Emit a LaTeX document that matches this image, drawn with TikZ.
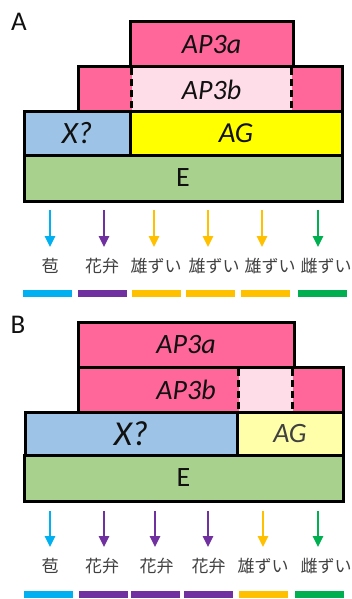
\documentclass[tikz,border=0pt]{standalone}
\usepackage{fontspec}
\setmainfont{Carlito}
\newfontfamily\jpfont{Noto Sans CJK JP}
\usetikzlibrary{arrows.meta}
\definecolor{pk}{HTML}{FF6699}
\definecolor{lpk}{HTML}{FFDDE8}
\definecolor{lbl}{HTML}{9DC3E6}
\definecolor{ylw}{HTML}{FFFF00}
\definecolor{lylw}{HTML}{FFFFAA}
\definecolor{grn}{HTML}{A9D18E}
\definecolor{cCy}{HTML}{00B0F0}
\definecolor{cPu}{HTML}{7030A0}
\definecolor{cGo}{HTML}{FFC000}
\definecolor{cGr}{HTML}{00B050}
\definecolor{txt}{HTML}{111111}
\definecolor{jtxt}{HTML}{404040}
\begin{document}
\begin{tikzpicture}[x=1pt,y=-1pt,
  box/.style={draw=black, line width=3pt, inner sep=0pt, outer sep=0pt, anchor=center, text=txt,
    font=\fontsize{28}{28}\selectfont\itshape},
  inbox/.style={draw=none, fill=lpk, inner sep=0pt, outer sep=0pt, anchor=center, text=txt,
    font=\fontsize{28}{28}\selectfont\itshape},
  dsh/.style={draw=black, line width=3pt, dash pattern=on 7pt off 4pt},
  lab/.style={anchor=base, inner sep=0pt, outer sep=0pt, text height=14pt, text depth=2pt,
    text=jtxt, font=\jpfont\fontsize{17}{17}\selectfont},
  arr/.style={draw=#1, line width=2.5pt, -{Triangle[width=10pt,length=11pt]}, shorten >=11pt},
  bar/.style={fill=#1, draw=none, inner sep=0pt, outer sep=0pt, minimum width=49pt, minimum height=7pt, anchor=center},
  panel/.style={anchor=center, inner sep=0pt, text=txt, font=\fontsize{27}{27}\selectfont}
]
\useasboundingbox (0,0) rectangle (352,599);

% ---------- Panel A ----------
\node[panel] (pa) at (19,22) {A};
\node[box, fill=pk, minimum width=163pt, minimum height=45pt] (a3a) at (211.5,44.5) {AP3a};
\node[box, fill=pk, minimum width=264pt, minimum height=45pt] (a3brow) at (210,89.5) {};
\node[inbox, minimum width=160pt, minimum height=42pt] (a3b) at (211.5,89.5) {AP3b};
\draw[dsh] (a3b.north west) -- (a3b.south west);
\draw[dsh] (a3b.north east) -- (a3b.south east);
\node[box, fill=lbl, minimum width=106pt, minimum height=43pt, font=\fontsize{31}{31}\selectfont\itshape] (ax) at (77,133.5) {X?};
\node[box, fill=ylw, minimum width=212pt, minimum height=43pt, font=\fontsize{29}{29}\selectfont\itshape] (aag) at (236,133.5) {AG};
\node[box, fill=grn, minimum width=318pt, minimum height=46pt, font=\fontsize{28}{28}\selectfont] (ae) at (183,178) {E};

\coordinate (ta1) at (50,210);
\coordinate (ta2) at (104,210);
\coordinate (ta3) at (154,210);
\coordinate (ta4) at (208,210);
\coordinate (ta5) at (262,210);
\coordinate (ta6) at (318,210);
\node[lab] (la1) at (50,272) {苞};
\node[lab] (la2) at (102,272) {花弁};
\node[lab] (la3) at (156,272) {雄ずい};
\node[lab] (la4) at (214,272) {雄ずい};
\node[lab] (la5) at (270,272) {雄ずい};
\node[lab] (la6) at (326,272) {雌ずい};
\draw[arr=cCy] (ta1) -- (ta1 |- la1.north);
\draw[arr=cPu] (ta2) -- (ta2 |- la2.north);
\draw[arr=cGo] (ta3) -- (ta3 |- la3.north);
\draw[arr=cGo] (ta4) -- (ta4 |- la4.north);
\draw[arr=cGo] (ta5) -- (ta5 |- la5.north);
\draw[arr=cGr] (ta6) -- (ta6 |- la6.north);
\node[bar=cCy] (ba1) at (47.5,293.5) {};
\node[bar=cPu] (ba2) at (102,293.5) {};
\node[bar=cGo] (ba3) at (156.5,293.5) {};
\node[bar=cGo] (ba4) at (210,293.5) {};
\node[bar=cGo] (ba5) at (265.5,293.5) {};
\node[bar=cGr] (ba6) at (322,293.5) {};

% ---------- Panel B ----------
\node[panel] (pb) at (18,325) {B};
\node[box, fill=pk, minimum width=216pt, minimum height=45pt] (b3a) at (186,344.5) {AP3a};
\node[box, fill=pk, minimum width=265pt, minimum height=45pt] (b3brow) at (210.5,389.5) {};
\node[inbox, minimum width=54pt, minimum height=42pt] (b3bin) at (265.5,389.5) {};
\node[anchor=center, inner sep=0pt, text=txt, font=\fontsize{28}{28}\selectfont\itshape] (b3b) at (186,389.5) {AP3b};
\draw[dsh] (b3bin.north west) -- (b3bin.south west);
\draw[dsh] (b3bin.north east) -- (b3bin.south east);
\node[box, fill=lbl, minimum width=212pt, minimum height=43pt, font=\fontsize{35}{35}\selectfont\itshape] (bx) at (131,433.5) {X?};
\node[box, fill=lylw, minimum width=106pt, minimum height=43pt, text=jtxt] (bag) at (290,433.5) {AG};
\node[box, fill=grn, minimum width=319pt, minimum height=46pt, font=\fontsize{28}{28}\selectfont] (be) at (183.5,478) {E};

\coordinate (tb1) at (50,511);
\coordinate (tb2) at (104,511);
\coordinate (tb3) at (155,511);
\coordinate (tb4) at (208,511);
\coordinate (tb5) at (263,511);
\coordinate (tb6) at (318,511);
\node[lab] (lb1) at (50,572) {苞};
\node[lab] (lb2) at (102,572) {花弁};
\node[lab] (lb3) at (156.5,572) {花弁};
\node[lab] (lb4) at (208.5,572) {花弁};
\node[lab] (lb5) at (263,572) {雄ずい};
\node[lab] (lb6) at (326,572) {雌ずい};
\draw[arr=cCy] (tb1) -- (tb1 |- lb1.north);
\draw[arr=cPu] (tb2) -- (tb2 |- lb2.north);
\draw[arr=cPu] (tb3) -- (tb3 |- lb3.north);
\draw[arr=cPu] (tb4) -- (tb4 |- lb4.north);
\draw[arr=cGo] (tb5) -- (tb5 |- lb5.north);
\draw[arr=cGr] (tb6) -- (tb6 |- lb6.north);
\node[bar=cCy] (bb1) at (48,594) {};
\node[bar=cPu] (bb2) at (103,594) {};
\node[bar=cPu] (bb3) at (155.5,594) {};
\node[bar=cPu] (bb4) at (208.5,594) {};
\node[bar=cGo] (bb5) at (263.5,594) {};
\node[bar=cGr] (bb6) at (319.5,594) {};
\end{tikzpicture}
\end{document}
